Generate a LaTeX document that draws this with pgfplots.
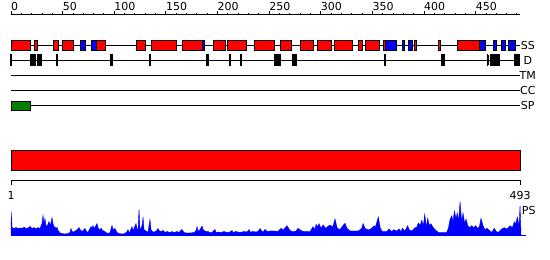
\documentclass[border=0pt]{standalone}
\usepackage{fontspec}
\setmainfont{DejaVu Sans}
\usepackage{pgfplots}
\usepackage{pgfplotstable}
\pgfplotsset{compat=1.18}
\definecolor{ssred}{RGB}{255,0,0}
\definecolor{ssblue}{RGB}{0,0,255}
\definecolor{spgreen}{RGB}{0,128,0}
% box: colour, start, end, top, bottom
\newcommand{\featbox}[5]{\addplot[fill=#1,draw=black,line width=0.9bp] coordinates {(#2,#4) (#3,#4) (#3,#5) (#2,#5)} -- cycle;}
\newcommand{\ssb}[3]{\featbox{#1}{#2}{#3}{40.5}{50.5}}
\newcommand{\db}[2]{\featbox{black}{#1}{#2}{54.8}{65.2}}
\pgfplotstableread{
r h
0 0
0.3 23
1 8
2.9 7
4.8 8
6.8 7
8.7 7.5
10.7 7
12.6 8.5
14.5 7
16.5 7.5
18.4 9
20.3 7
22.3 8
24.2 6.5
26.2 8
28.1 7
30 12
31 20
32 12
32.9 17
33.9 10
34.9 9
36.8 14
38.3 10
39.7 18
40.7 12
41.6 9
43.6 7.5
44.6 8
45.5 5
46.5 4
47.5 2.5
49.4 2
52.3 1.5
55.2 2
57.1 3
58.1 7
59.1 4
61 3.5
63 5
65.9 8
66.8 6
68.8 4
71.7 7
72.6 5
74.1 3
75.5 5
77.5 9
78.5 7
79.4 10
80.4 7
81.8 9
83.3 12
84.3 8
85.2 6
87.7 7
88.6 5
90.1 4.5
92 3
93 2.5
94.9 2
95.9 3
97.8 10
98.8 6
100.7 7
102.7 3
104.6 2
107.5 1.5
110.4 2
112.4 4
113.3 6
114.3 3
115.3 4
117.2 9
118.2 5
119.1 7
121.1 12
122 7
123 5
124 26
124.9 6
125.9 7
126.9 10
127.9 18
128.8 6
129.8 5
131.7 4
132.7 3
134.6 16
135.6 6
136.6 4
138.5 3.5
140.4 4
142.4 7
143.3 5
145.3 4
147.2 5
149.2 3
151.1 4
154 3
155.9 4
157.9 3
160.8 4
162.7 3
165.6 6
167.6 3
169.5 2.5
173.4 2.5
177.3 3
179.2 5
180.2 9
181.1 4
183.1 6
185 9.5
186 6
186.9 5
188.9 4
190.8 4
192.8 3
194.7 3
197.6 6
198.6 3
200.5 3.5
203.4 3
206.3 4
209.2 3
212.1 3.5
214.1 5
215 3
217.9 4
221.8 3
225.7 4
228.6 3.5
230.5 6
231.5 3.5
234.4 4
237.3 3.5
239.2 4
241.2 7
243.1 4
244.1 3.5
246 6
248 4
250.9 4.5
254.7 4.5
258.6 4
261.5 7.2
263.5 5.5
267.3 9.8
270.2 5
273.1 3.8
276 4.5
278 7.2
281.6 4.5
284.8 3.8
289.6 3.8
292.5 8.8
294.5 6
295.4 11.2
296.9 8.8
298.3 11.8
300.3 7.2
302.2 10.5
304.8 7.2
307 9.2
309 10.5
311.6 8.5
313.8 16.5
316 7.2
318.7 5.8
320.9 9.2
323.5 12.2
325.4 7.2
328.4 4.5
333.2 4.5
336.4 4.5
339.7 7.2
341 12
342.9 7.2
346.1 5.5
349.4 7.2
351.6 9.8
352.9 8.5
355.8 18.5
357.7 7.2
359.6 3.8
363.9 3.8
366.1 6.5
368.7 3.8
370.7 5.8
373.6 4.5
375.8 6.5
377.8 3.8
379 7.2
381.6 4.5
384.2 9.8
385.5 5.8
388.1 4.5
390.6 7.2
393 8.5
394.5 12.5
396.4 10.5
397.8 15.2
399.4 9.8
400.7 21.2
402.3 8.5
403.6 17.2
405.2 9.8
406.8 11.8
408.5 8.5
410.7 5.8
413.9 3.2
417.5 3.2
422 3.2
423.6 7.2
425.2 15.8
426.9 19.8
428.1 13.8
429.4 24.5
431 17.2
432.3 22.5
433.6 14.5
434.9 33.8
436.5 13.8
437.8 22.5
439.4 11.8
440.7 16.5
442.4 9.8
444.3 7.8
446.2 9.8
448.2 7.8
450.1 9.8
451.7 7.2
453.6 8.5
455.2 17.2
457.2 9.8
459.1 5.8
461.3 7.2
463.7 4.5
465.6 3.2
468.1 7.2
470.1 3.8
472 3.2
475.3 6.5
477.8 7.8
479.7 6.5
481.7 7.8
483.3 9.8
485.6 7.8
487.5 13.8
488.8 11.2
490.4 18.5
492.1 9.8
493 29.8
494 0
}\pstable
\begin{document}
\begin{tikzpicture}
\begin{axis}[scale only axis, width=550bp, height=260bp,
  xmin=-10.654, xmax=522.03, ymin=0, ymax=260, y dir=reverse,
  hide axis, clip=false]
% top ruler
\addplot[black, line width=0.9bp] coordinates {(0,14.7) (493,14.7)};
\addplot[only marks, mark=|, mark size=1.9bp, mark options={black, line width=0.9bp}] coordinates {
(0,12.8) (50,12.8) (100,12.8) (150,12.8) (200,12.8) (250,12.8) (300,12.8) (350,12.8) (400,12.8) (450,12.8)};
\addplot[only marks, mark=|, mark size=1.1bp, mark options={black, line width=0.9bp}] coordinates {
(10,13.6) (20,13.6) (30,13.6) (40,13.6) (60,13.6) (70,13.6) (80,13.6) (90,13.6)
(110,13.6) (120,13.6) (130,13.6) (140,13.6) (160,13.6) (170,13.6) (180,13.6) (190,13.6)
(210,13.6) (220,13.6) (230,13.6) (240,13.6) (260,13.6) (270,13.6) (280,13.6) (290,13.6)
(310,13.6) (320,13.6) (330,13.6) (340,13.6) (360,13.6) (370,13.6) (380,13.6) (390,13.6)
(410,13.6) (420,13.6) (430,13.6) (440,13.6) (460,13.6) (470,13.6) (480,13.6) (490,13.6)};
\foreach \v in {0,50,100,150,200,250,300,350,400,450}{
  \edef\tmp{\noexpand\node[anchor=base west, inner sep=0, font=\noexpand\fontsize{11bp}{12bp}\noexpand\selectfont] at (axis cs:\v,10) {\v};}\tmp}
% track lines
\addplot[black, line width=0.9bp] coordinates {(0,45.5) (493,45.5)};
\addplot[black, line width=0.9bp] coordinates {(0,60) (493,60)};
\addplot[black, line width=0.9bp] coordinates {(0,75.3) (493,75.3)};
\addplot[black, line width=0.9bp] coordinates {(0,90) (493,90)};
\addplot[black, line width=0.9bp] coordinates {(0,105.3) (493,105.3)};
% SS
\ssb{ssred}{0.5}{18.6}
\ssb{ssred}{23.1}{25.9}
\ssb{ssred}{41.5}{45.7}
\ssb{ssred}{50.2}{60.5}
\ssb{ssblue}{67.6}{72.4}
\ssb{ssblue}{77.7}{82.3}
\ssb{ssred}{82.3}{91.5}
\ssb{ssred}{121.9}{130}
\ssb{ssred}{136.4}{160.6}
\ssb{ssred}{166.4}{185.3}
\ssb{ssblue}{185.3}{187.7}
\ssb{ssred}{196.4}{207.4}
\ssb{ssred}{210}{228.4}
\ssb{ssred}{236.1}{255}
\ssb{ssred}{261.3}{272.1}
\ssb{ssred}{280.7}{293.3}
\ssb{ssred}{297.2}{310.6}
\ssb{ssred}{313.6}{330.3}
\ssb{ssred}{336.9}{340.7}
\ssb{ssred}{343.6}{356.4}
\ssb{ssred}{360.3}{362.4}
\ssb{ssblue}{362.4}{372.9}
\ssb{ssblue}{378.7}{380.6}
\ssb{ssblue}{385.3}{388.9}
\ssb{ssred}{390.3}{393}
\ssb{ssred}{413.6}{416}
\ssb{ssred}{432.8}{453.6}
\ssb{ssblue}{453.6}{459.1}
\ssb{ssblue}{467.5}{469.9}
\ssb{ssblue}{474.6}{478.4}
\ssb{ssblue}{482}{488.1}
% D
\db{-0.5}{0.3}
\db{18.9}{23.4}
\db{25.7}{29.5}
\db{44.1}{45}
\db{96.7}{98}
\db{134.1}{135.1}
\db{189.4}{191}
\db{211.6}{212.6}
\db{222.3}{223.3}
\db{255.5}{260.5}
\db{272.9}{276.2}
\db{362}{362.3}
\db{416.5}{419.4}
\db{461.5}{461.8}
\db{464.7}{472.9}
\db{487.7}{492.5}
% SP
\featbox{spgreen}{0}{18.6}{101.5}{110}
% domain bar
\featbox{ssred}{0}{493}{150.5}{170}
% bottom ruler
\addplot[black, line width=0.9bp] coordinates {(0,185) (0,180.7) (493,180.7) (493,185)};
% PS profile
\addplot[fill=ssblue, draw=ssblue, line width=0.4bp] table[x=r, y expr=235.5-\thisrow{h}] {\pstable};
\addplot[ssblue, line width=1.2bp] coordinates {(0,235.3) (498.4,235.3)};
% labels
\begin{scope}[every node/.style={font=\fontsize{11bp}{12bp}\selectfont, inner sep=0}]
\node[anchor=center] at (axis cs:500.5,45.5) {SS};
\node[anchor=center] at (axis cs:500.5,60) {D};
\node[anchor=center] at (axis cs:500.5,75.3) {TM};
\node[anchor=center] at (axis cs:500.5,90) {CC};
\node[anchor=center] at (axis cs:500.5,105.3) {SP};
\node[anchor=center] at (axis cs:501.5,210.5) {PS};
\node[anchor=base] at (axis cs:0,199.5) {1};
\node[anchor=base] at (axis cs:493,199.5) {493};
\end{scope}
\end{axis}
\pgfresetboundingbox
\path[use as bounding box] (current axis.south west) rectangle (current axis.north east);
\end{tikzpicture}
\end{document}
